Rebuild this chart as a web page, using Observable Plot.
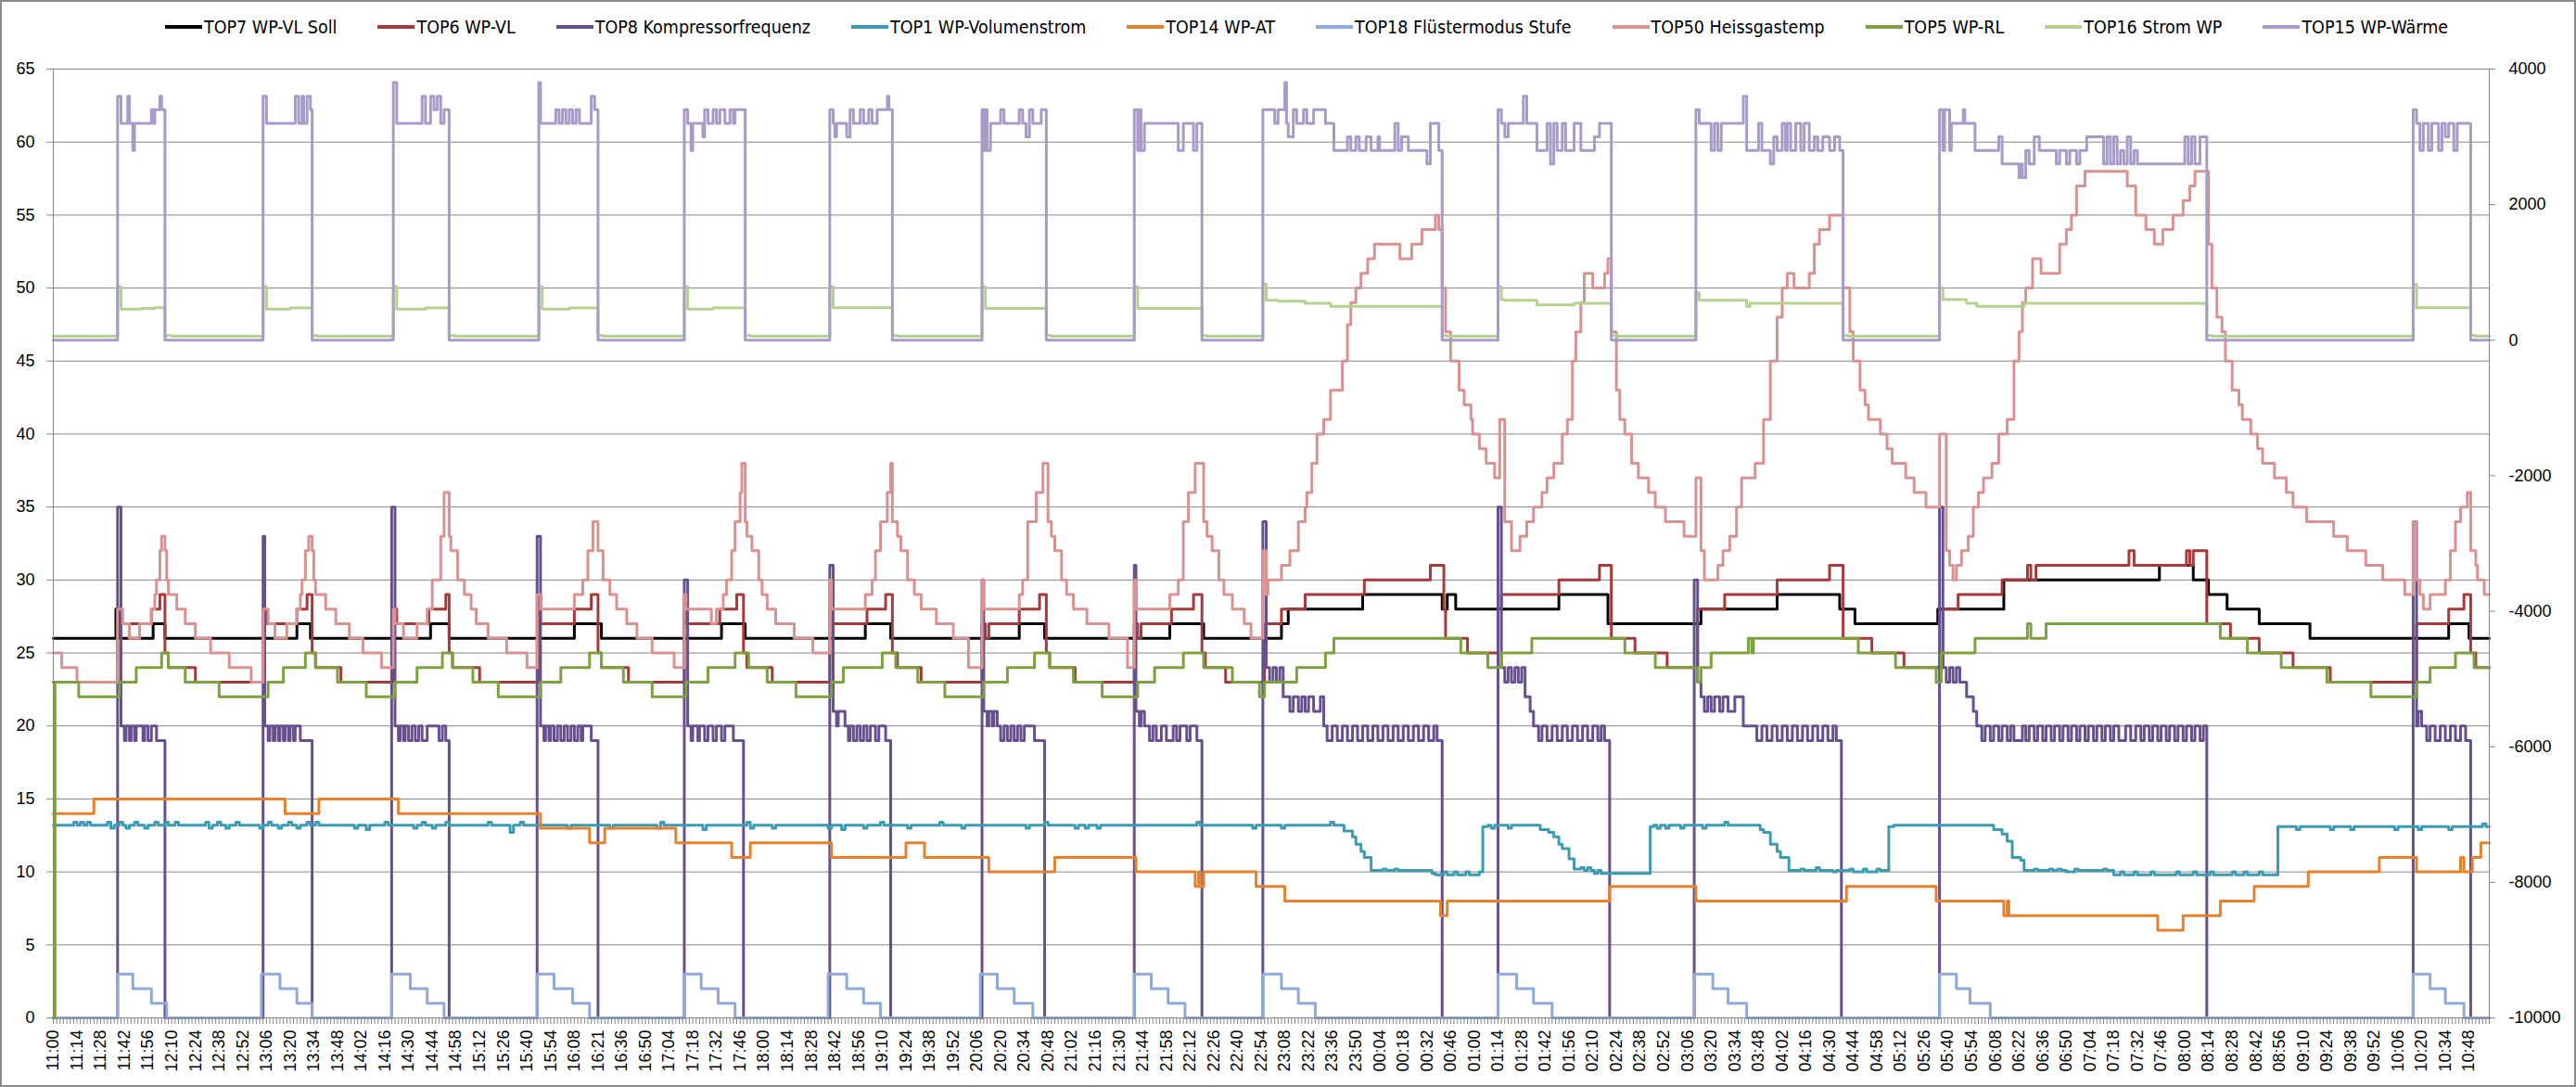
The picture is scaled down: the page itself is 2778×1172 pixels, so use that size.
<!DOCTYPE html>
<html><head><meta charset="utf-8">
<script src="https://cdn.jsdelivr.net/npm/d3@7"></script>
<script src="https://cdn.jsdelivr.net/npm/@observablehq/plot@0.6"></script>
<style>
html,body{margin:0;padding:0;background:#fff;}
#wrap{position:relative;width:2778px;height:1172px;overflow:hidden;font-family:"Liberation Sans",Arial,sans-serif;}
#legend{height:58px;display:flex;justify-content:center;align-items:center;column-gap:44px;font-size:19.5px;color:#000;padding-left:40px;box-sizing:border-box;font-family:"Liberation Sans Narrow","DejaVu Sans Condensed","Liberation Sans",Arial,sans-serif;}
.item{display:flex;align-items:center;white-space:nowrap;}
.sw{width:40px;height:4px;margin-right:2px;}
#border{position:absolute;left:0;top:0;width:2778px;height:1172px;border:2px solid #8a8a8a;box-sizing:border-box;pointer-events:none;}
</style></head><body>
<div id="wrap"><div id="legend"></div><div id="chart"></div><div id="border"></div></div>
<script>
// x = minutes after 11:00; values as [t, v, t, v, ...] (value holds from t)
const xLabels = ["11:00","11:14","11:28","11:42","11:56","12:10","12:24","12:38","12:52","13:06","13:20","13:34","13:48","14:02","14:16","14:30","14:44","14:58","15:12","15:26","15:40","15:54","16:08","16:21","16:36","16:50","17:04","17:18","17:32","17:46","18:00","18:14","18:28","18:42","18:56","19:10","19:24","19:38","19:52","20:06","20:20","20:34","20:48","21:02","21:16","21:30","21:44","21:58","22:12","22:26","22:40","22:54","23:08","23:22","23:36","23:50","00:04","00:18","00:32","00:46","01:00","01:14","01:28","01:42","01:56","02:10","02:24","02:38","02:52","03:06","03:20","03:34","03:48","04:02","04:16","04:30","04:44","04:58","05:12","05:26","05:40","05:54","06:08","06:22","06:36","06:50","07:04","07:18","07:32","07:46","08:00","08:14","08:28","08:42","08:56","09:10","09:24","09:38","09:52","10:06","10:20","10:34","10:48"];
const leftTicks = [0,5,10,15,20,25,30,35,40,45,50,55,60,65];
const rightTicks = [-10000,-8000,-6000,-4000,-2000,0,2000,4000];

const top7Soll = [0,26, 37,28, 39,26, 59,27, 66,26, 144,27, 152,26, 223,27, 234,26, 308,27, 324,26, 395,27, 409,26, 480,27, 495,26, 571,27, 586,26, 660,27, 680,26, 726,27, 730,28, 774,29, 821,28, 824,29, 829,28, 890,29, 919,27, 974,28, 1019,29, 1056,28, 1065,27, 1114,28, 1153,30, 1245,31, 1265,30, 1274,29, 1285,28, 1304,27, 1334,26, 1416,27, 1428,26];

const top6VL = [0,23, 38,28, 40,27, 58,28, 63,29, 66,25, 68,24, 84,23, 124,28, 126,27, 144,28, 150,29, 153,25, 155,24, 170,23, 201,28, 203,27, 222,28, 232,29, 234,25, 236,24, 252,23, 287,29, 288,27, 308,28, 318,29, 322,25, 324,24, 340,23, 373,28, 374,27, 394,28, 404,29, 408,25, 410,24, 425,23, 459,28, 461,27, 481,28, 492,29, 496,25, 499,24, 513,23, 549,27, 551,26, 553,27, 571,28, 583,29, 587,25, 589,24, 604,23, 639,27, 641,26, 643,27, 661,28, 674,29, 679,25, 681,24, 693,23, 716,27, 726,28, 740,29, 775,30, 814,31, 822,28, 823,26, 836,25, 854,28, 856,29, 890,30, 914,31, 921,26, 935,25, 954,24, 972,28, 988,29, 1019,30, 1050,31, 1058,26, 1075,25, 1094,24, 1117,28, 1126,29, 1152,30, 1167,31, 1169,30, 1172,31, 1227,32, 1230,31, 1261,32, 1263,31, 1265,32, 1273,27, 1287,26, 1304,25, 1324,24, 1346,23, 1397,27, 1416,28, 1425,29, 1429,25, 1432,24];

const top8Kompressor = [0,0, 38,35, 40,20, 42,19, 43,20, 45,19, 46,20, 48,19, 49,20, 53,19, 54,20, 56,19, 58,20, 61,19, 66,0,
 124,33, 125,20, 127,19, 128,20, 130,19, 131,20, 133,19, 134,20, 136,19, 137,20, 139,19, 140,20, 142,19, 143,20, 146,19, 153,0,
 200,35, 202,20, 204,19, 205,20, 207,19, 208,20, 210,19, 212,20, 214,19, 216,20, 218,19, 221,20, 228,19, 230,20, 232,19, 234,0,
 286,33, 288,20, 290,19, 291,20, 293,19, 294,20, 296,19, 298,20, 300,19, 302,20, 304,19, 306,20, 308,19, 310,20, 312,19, 313,20, 318,19, 322,0,
 373,30, 375,20, 377,19, 378,20, 381,19, 382,20, 385,19, 387,20, 390,19, 392,20, 395,19, 397,20, 402,19, 408,0,
 459,31, 461,21, 463,20, 464,21, 468,20, 470,19, 471,20, 473,19, 475,20, 477,19, 479,20, 481,19, 483,20, 486,19, 488,20, 492,19, 495,0,
 549,30, 550,21, 552,20, 553,21, 555,20, 556,21, 558,20, 560,19, 562,20, 564,19, 566,20, 568,19, 570,20, 572,19, 574,20, 580,19, 586,0,
 639,31, 640,21, 642,20, 643,21, 645,20, 648,19, 650,20, 652,19, 655,20, 658,19, 662,20, 664,19, 666,20, 670,19, 672,20, 676,19, 679,0,
 715,34, 717,24, 719,23, 721,24, 723,23, 725,24, 727,22, 731,21, 733,22, 736,21, 738,22, 740,21, 742,22, 745,21, 749,22, 751,20, 753,19, 756,20, 759,19, 762,20, 765,19, 768,20, 771,19, 774,20, 777,19, 780,20, 783,19, 786,20, 789,19, 792,20, 795,19, 798,20, 801,19, 804,20, 807,19, 810,20, 813,19, 816,20, 818,19, 821,0,
 854,35, 856,24, 858,23, 860,24, 862,23, 864,24, 866,23, 868,24, 870,22, 873,21, 875,20, 878,19, 880,20, 883,19, 886,20, 889,19, 892,20, 895,19, 898,20, 901,19, 904,20, 907,19, 910,20, 913,19, 915,20, 917,19, 920,0,
 970,30, 972,23, 974,22, 976,21, 978,22, 980,21, 982,22, 985,21, 987,22, 990,21, 994,22, 999,20, 1007,19, 1010,20, 1013,19, 1016,20, 1019,19, 1022,20, 1025,19, 1028,20, 1031,19, 1034,20, 1037,19, 1040,20, 1043,19, 1046,20, 1049,19, 1052,20, 1054,19, 1057,0,
 1115,35, 1117,24, 1119,23, 1121,24, 1123,23, 1125,24, 1127,23, 1131,22, 1135,21, 1137,20, 1140,19, 1142,20, 1145,19, 1147,20, 1150,19, 1152,20, 1155,19, 1157,20, 1159,19, 1164,20, 1166,19, 1168,20, 1171,19, 1173,20, 1176,19, 1178,20, 1181,19, 1183,20, 1186,19, 1188,20, 1191,19, 1193,20, 1196,19, 1198,20, 1201,19, 1203,20, 1206,19, 1208,20, 1211,19, 1213,20, 1216,19, 1218,20, 1221,19, 1225,20, 1228,19, 1231,20, 1234,19, 1236,20, 1239,19, 1241,20, 1244,19, 1246,20, 1249,19, 1251,20, 1254,19, 1256,20, 1259,19, 1261,20, 1264,19, 1266,20, 1269,19, 1271,20, 1273,0,
 1395,34, 1397,20, 1398,21, 1400,20, 1403,19, 1405,20, 1408,19, 1411,20, 1414,19, 1417,20, 1420,19, 1423,20, 1426,19, 1429,0];

const top1Volumenstrom = [0,13.2, 12,13.4, 14,13.2, 16,13.4, 18,13.2, 20,13.4, 22,13.2, 32,13.4, 34,13.0, 36,13.2, 39,13.4, 41,13.2, 43,13.0, 45,13.2, 48,13.4, 50,13.2, 54,13.0, 56,13.2, 60,13.4, 62,13.2, 66,13.4, 68,13.2, 72,13.4, 74,13.2, 90,13.4, 92,13.0, 94,13.2, 97,13.4, 99,13.2, 102,13.0, 104,13.2, 108,13.4, 110,13.2, 122,13.0, 124,13.2, 127,13.4, 129,13.2, 133,13.0, 135,13.2, 139,13.4, 141,13.2, 144,13.0, 146,13.2, 150,13.4, 152,13.2, 155,13.4, 157,13.2, 178,13.0, 180,13.2, 185,12.9, 187,13.2, 196,13.4, 198,13.2, 213,13.0, 215,13.2, 218,13.4, 220,13.2, 224,13.0, 226,13.2, 232,13.4, 234,13.2, 257,13.4, 259,13.2, 270,12.7, 272,13.2, 276,13.4, 278,13.2, 304,13.0, 306,13.2, 329,13.0, 331,13.2, 357,13.0, 359,13.4, 361,13.2, 384,12.9, 386,13.2, 410,13.4, 412,13.0, 414,13.2, 425,13.0, 427,13.2, 458,13.0, 460,13.2, 466,12.9, 468,13.2, 479,13.0, 481,13.2, 489,13.4, 491,13.2, 505,13.0, 507,13.2, 524,13.4, 526,13.2, 537,13.0, 539,13.2, 575,13.0, 577,13.2, 586,13.4, 588,13.2, 604,13.0, 606,13.2, 610,13.0, 612,13.2, 617,13.0, 619,13.2, 676,13.4, 678,13.2, 709,13.0, 711,13.2, 726,13.0, 728,13.2, 755,13.4, 757,13.2, 763,12.8, 768,12.4, 770,11.9, 773,11.4, 775,11.0, 779,10.1, 786,10.2, 788,10.1, 793,10.2, 795,10.1, 815,9.9, 817,9.8, 822,10.0, 824,9.8, 828,10.0, 830,9.8, 835,10.0, 837,9.8, 843,10.0, 845,13.1, 848,13.2, 850,13.0, 852,13.2, 860,13.0, 862,13.2, 879,12.9, 884,12.7, 887,12.4, 890,11.9, 892,11.6, 896,10.9, 899,10.2, 903,10.3, 905,10.1, 907,10.3, 909,10.1, 911,9.9, 913,10.1, 915,9.9, 944,13.1, 946,13.2, 948,13.0, 950,13.2, 953,13.0, 955,13.2, 962,13.0, 964,13.2, 975,13.0, 977,13.2, 988,13.4, 990,13.2, 1009,12.9, 1011,12.7, 1015,11.9, 1019,11.4, 1021,11.0, 1026,10.1, 1033,10.2, 1035,10.1, 1042,10.3, 1044,10.1, 1052,10.0, 1054,10.1, 1062,10.2, 1064,10.0, 1070,10.2, 1072,10.0, 1078,10.2, 1080,10.1, 1085,13.1, 1088,13.2, 1147,12.9, 1152,12.6, 1155,12.1, 1158,11.0, 1163,10.8, 1165,10.1, 1171,10.2, 1173,10.1, 1180,10.2, 1182,10.1, 1185,10.2, 1187,10.1, 1190,10.0, 1195,10.2, 1197,10.1, 1212,10.2, 1214,10.1, 1218,9.8, 1222,10.0, 1224,9.8, 1230,10.0, 1232,9.8, 1240,10.0, 1242,9.8, 1255,10.0, 1257,9.8, 1265,10.0, 1267,9.8, 1275,10.0, 1277,9.8, 1288,10.0, 1290,9.8, 1295,10.0, 1297,9.8, 1304,10.0, 1306,9.8, 1315,13.1, 1326,12.9, 1328,13.1, 1346,12.9, 1348,13.1, 1358,12.9, 1360,13.1, 1384,12.9, 1386,13.1, 1398,12.9, 1400,13.1, 1416,12.9, 1418,13.1, 1436,13.3, 1438,13.1];

const top14AT = [0,14, 24,15, 137,14, 157,15, 204,14, 288,13, 317,12, 326,13, 368,12, 401,11, 412,12, 460,11, 504,12, 515,11, 553,10, 592,11, 640,10, 675,9, 677,10, 678,9, 680,10, 711,9, 728,8, 820,7, 824,8, 920,9, 971,8, 1060,9, 1113,8, 1153,7, 1155,8, 1156,7, 1244,6, 1259,7, 1281,8, 1301,9, 1333,10, 1375,11, 1397,10, 1423,11, 1425,10, 1430,11, 1435,12];

const top18Fluester = [0,0, 38,3, 47,2, 58,1, 67,0, 123,3, 134,2, 144,1, 153,0, 200,3, 211,2, 221,1, 231,0, 286,3, 296,2, 307,1, 317,0, 373,3, 383,2, 393,1, 403,0, 458,3, 469,2, 479,1, 489,0, 548,3, 558,2, 568,1, 579,0, 639,3, 649,2, 659,1, 669,0, 715,3, 726,2, 736,1, 746,0, 854,3, 865,2, 875,1, 886,0, 970,3, 981,2, 990,1, 1001,0, 1115,3, 1125,2, 1133,1, 1145,0, 1395,3, 1405,2, 1414,1, 1425,0];

const top50Heissgas = [0,25, 5,24, 14,23,
 38,28, 41,27, 45,26, 51,27, 58,28, 60,29, 61,30, 63,32, 64,33, 66,32, 67,30, 68,29, 73,28, 78,27, 84,26, 93,25, 104,24, 117,23,
 124,28, 127,27, 131,26, 138,27, 144,28, 146,29, 147,30, 149,32, 151,33, 153,32, 154,30, 155,29, 161,28, 167,27, 175,26, 183,25, 194,24,
 201,28, 202,27, 207,26, 215,27, 221,28, 224,30, 229,33, 231,36, 234,33, 235,32, 239,30, 243,29, 247,28, 250,27, 257,26, 268,25, 280,24,
 286,29, 288,28, 308,29, 313,30, 316,32, 319,34, 322,32, 325,30, 329,29, 333,28, 339,27, 345,26, 354,25, 367,24,
 373,29, 374,28, 389,27, 392,28, 396,29, 398,30, 401,32, 403,34, 406,36, 407,38, 409,34, 410,33, 413,32, 417,30, 419,29, 422,28, 427,27, 438,26, 449,25,
 459,30, 460,28, 480,29, 484,30, 486,32, 489,34, 493,36, 495,38, 496,34, 499,33, 501,32, 505,30, 509,29, 513,28, 522,27, 532,26, 541,24,
 549,30, 550,28, 571,29, 573,30, 576,34, 581,36, 585,38, 588,34, 590,33, 592,32, 596,30, 599,29, 603,28, 611,27, 624,26, 635,24,
 639,30, 640,28, 660,29, 665,30, 668,34, 671,36, 675,38, 680,34, 682,33, 685,32, 689,30, 692,29, 697,28, 704,27, 708,26,
 715,32, 717,29, 718,30, 726,31, 731,32, 736,34, 740,35, 741,36, 744,38, 747,40, 751,41, 755,43, 762,45, 765,47.5, 767,49, 770,50, 773,51, 777,52, 781,53, 796,52, 803,53, 809,54, 817,55, 819,54, 821,50, 823,47, 826,45, 831,43, 834,42, 838,41, 839,40, 843,39, 847,38, 852,37,
 855,41, 858,34, 862,32, 867,33, 871,34, 875,35, 880,36, 883,37, 887,38, 892,40, 895,41, 898,45, 900,47, 903,49, 905,51, 910,50, 917,51, 919,52, 921,47, 924,43, 926,41, 929,40, 933,38, 937,37, 943,36, 947,35, 953,34, 964,33,
 971,37, 974,32, 976,30, 984,31, 987,32, 991,33, 995,35, 998,37, 1006,38, 1011,41, 1015,45, 1019,48, 1022,50, 1025,51, 1029,50, 1038,51, 1041,53, 1044,54, 1050,55, 1058,50, 1062,47, 1064,45, 1068,43, 1071,42, 1073,41, 1080,40, 1084,39, 1087,38, 1095,37, 1100,36, 1107,35,
 1115,40, 1119,32, 1121,31, 1123,30, 1125,31, 1128,32, 1132,33, 1135,35, 1138,36, 1141,37, 1146,38, 1150,40, 1155,41, 1159,45, 1162,47, 1164,49, 1166,50, 1170,52, 1175,51, 1186,53, 1190,54, 1193,55, 1196,57, 1201,58, 1226,57, 1231,55, 1237,54, 1242,53, 1247,54, 1253,55, 1259,56, 1263,57, 1266,58, 1274,53, 1276,50, 1279,48, 1282,47, 1284,45, 1288,43, 1292,42, 1294,41, 1299,40, 1303,39, 1306,38, 1313,37, 1320,36, 1324,35, 1332,34, 1348,33, 1356,32, 1367,31, 1377,30, 1390,29,
 1395,34, 1397,30, 1399,29, 1401,28, 1405,29, 1414,30, 1417,32, 1420,34, 1423,35, 1427,36, 1429,32, 1432,31, 1433,30, 1437,29];

const top5RL = [0,0, 1,23, 15,22, 39,23, 49,24, 64,25, 68,24, 78,23, 98,22, 127,23, 136,24, 149,25, 155,24, 168,23, 185,22, 202,23, 215,24, 230,25, 236,24, 248,23, 263,22, 288,23, 300,24, 317,25, 324,24, 337,23, 354,22, 374,23, 387,24, 403,25, 411,24, 422,23, 439,22, 460,23, 467,24, 490,25, 498,24, 511,23, 527,22, 550,23, 564,24, 580,25, 589,24, 603,23, 620,22, 641,23, 651,24, 668,25, 680,24, 697,23, 713,22, 716,23, 735,24, 752,25, 757,26, 832,25, 848,24, 856,25, 874,26, 929,25, 947,24, 972,23, 974,24, 980,25, 1002,26, 1004,25, 1005,26, 1067,25, 1089,24, 1113,23, 1116,25, 1136,26, 1167,27, 1169,26, 1178,27, 1281,26, 1297,25, 1317,24, 1344,23, 1370,22, 1397,23, 1405,24, 1420,25, 1431,24];

// right axis series (native units)
const top16Strom = [0,60, 38,790, 40,460, 52,470, 60,480, 66,70, 70,60, 124,790, 126,460, 140,475, 153,70, 156,60, 201,790, 203,460, 220,475, 234,70, 237,60, 287,790, 289,460, 305,475, 322,70, 325,60, 373,790, 375,460, 390,475, 409,70, 412,60, 459,790, 461,480, 496,70, 499,60, 549,790, 551,470, 587,70, 590,60, 639,790, 641,470, 679,70, 682,60, 715,830, 717,590, 724,575, 740,545, 755,500, 821,70, 824,60, 854,790, 856,600, 858,590, 877,520, 899,545, 921,70, 924,60, 971,700, 973,590, 1001,500, 1003,545, 1058,70, 1061,60, 1115,770, 1117,600, 1131,545, 1137,500, 1165,545, 1273,70, 1276,60, 1395,820, 1397,480, 1429,70, 1432,60];

const top15Waerme = [0,0, 38,3600, 40,3200, 44,3600, 45,3200, 47,2800, 48,3200, 58,3400, 59,3200, 60,3400, 63,3600, 64,3400, 66,0,
 124,3600, 126,3200, 143,3600, 145,3200, 147,3600, 148,3200, 150,3600, 152,3400, 153,0,
 201,3800, 203,3200, 218,3600, 220,3200, 223,3600, 225,3400, 227,3600, 229,3200, 231,3400, 234,0,
 287,3800, 288,3200, 297,3400, 299,3200, 301,3400, 303,3200, 305,3400, 307,3200, 309,3400, 311,3200, 318,3600, 320,3400, 322,0,
 373,3400, 375,3200, 377,2800, 378,3200, 384,3000, 385,3400, 387,3200, 390,3400, 392,3200, 394,3400, 397,3200, 400,3400, 402,3200, 403,3400, 409,0,
 459,3400, 461,3200, 462,3000, 463,3200, 469,3000, 471,3400, 473,3200, 477,3400, 479,3200, 482,3400, 484,3200, 487,3400, 493,3600, 494,3400, 496,0,
 549,3400, 550,2800, 551,3400, 552,2800, 554,3200, 560,3400, 562,3200, 571,3400, 573,3200, 575,3000, 577,3400, 579,3200, 584,3400, 587,0,
 639,3400, 641,2800, 642,3400, 643,2800, 645,3200, 665,2800, 668,3200, 674,2800, 676,3200, 679,0,
 715,3400, 722,3200, 724,3400, 728,3800, 729,3200, 730,3000, 733,3400, 735,3200, 739,3400, 741,3200, 745,3400, 752,3200, 757,2800, 765,3000, 767,2800, 770,3000, 772,2800, 776,3000, 779,2800, 783,3000, 784,2800, 793,3200, 795,2800, 797,3000, 801,2800, 812,2600, 814,3200, 819,2800, 821,0,
 854,3400, 856,3200, 858,3000, 860,3200, 869,3600, 871,3200, 877,2800, 883,3200, 885,2600, 887,3200, 889,2800, 892,3200, 894,2800, 899,3200, 903,2800, 911,3000, 914,3200, 921,0,
 971,3400, 973,3200, 980,2800, 982,3200, 984,2800, 986,3200, 999,3600, 1001,2800, 1008,3200, 1010,2800, 1015,2600, 1017,3000, 1019,2800, 1022,3200, 1024,2800, 1025,3200, 1027,2800, 1030,3200, 1033,2800, 1035,3200, 1038,2800, 1041,3000, 1043,2800, 1046,3000, 1050,2800, 1053,3000, 1056,2800, 1058,0,
 1115,3400, 1117,2800, 1118,3400, 1121,2800, 1122,3200, 1129,3400, 1130,3200, 1136,2800, 1150,3000, 1152,2600, 1162,2400, 1163,2600, 1164,2400, 1166,2800, 1168,2600, 1171,3000, 1174,2800, 1184,2600, 1186,2800, 1190,2600, 1192,2800, 1196,2600, 1198,2800, 1202,3000, 1212,2600, 1214,3000, 1216,2600, 1218,3000, 1220,2600, 1222,2800, 1224,2600, 1226,3000, 1228,2600, 1230,2800, 1232,2600, 1260,3000, 1262,2600, 1264,3000, 1266,2600, 1269,3000, 1273,0,
 1395,3400, 1397,3200, 1399,2800, 1401,3200, 1404,2800, 1406,3200, 1410,2800, 1412,3200, 1414,3000, 1416,3200, 1419,2800, 1421,3200, 1429,0];

const T_END = 1440;
const r2l = d3.scaleLinear().domain([-10000, 4000]).range([0, 65]);
function toPts(arr, conv) {
  const out = [];
  for (let i = 0; i < arr.length; i += 2) out.push({t: arr[i], v: conv ? conv(arr[i+1]) : arr[i+1]});
  out.push({t: T_END, v: out[out.length-1].v});
  return out;
}

const series = [
  {name: "TOP7 WP-VL Soll", color: "#000000", data: top7Soll},
  {name: "TOP6 WP-VL", color: "#A8393A", data: top6VL},
  {name: "TOP8 Kompressorfrequenz", color: "#68508F", data: top8Kompressor},
  {name: "TOP1 WP-Volumenstrom", color: "#3A9BB2", data: top1Volumenstrom},
  {name: "TOP14 WP-AT", color: "#E6822F", data: top14AT},
  {name: "TOP18 Flüstermodus Stufe", color: "#8FAAD8", data: top18Fluester},
  {name: "TOP50 Heissgastemp", color: "#DA9291", data: top50Heissgas},
  {name: "TOP5 WP-RL", color: "#7CA240", data: top5RL},
  {name: "TOP16 Strom WP", color: "#B3D28F", data: top16Strom, right: true},
  {name: "TOP15 WP-Wärme", color: "#A99BC7", data: top15Waerme, right: true}
];

// legend
const lg = document.getElementById("legend");
for (const s of series) {
  const it = document.createElement("div"); it.className = "item";
  const sw = document.createElement("div"); sw.className = "sw"; sw.style.background = s.color;
  const tx = document.createElement("span"); tx.textContent = s.name;
  it.appendChild(sw); it.appendChild(tx); lg.appendChild(it);
}

const gray = "#868686";
const chart = Plot.plot({
  width: 2778, height: 1114,
  marginTop: 16, marginBottom: 75, marginLeft: 57, marginRight: 94,
  style: {fontFamily: "'Liberation Sans', Arial, sans-serif", fontSize: "18px", background: "transparent", overflow: "visible"},
  x: {domain: [0, T_END], axis: null},
  y: {domain: [0, 65], axis: null},
  marks: [
    Plot.gridY(leftTicks, {stroke: gray, strokeOpacity: 1, strokeWidth: 1}),
    ...series.map(s => Plot.line(toPts(s.data, s.right ? r2l : null), {x: "t", y: "v", stroke: s.color, strokeWidth: 3, curve: "step-after", strokeLinejoin: "round"})),
    Plot.frame({stroke: gray}),
    Plot.axisY(leftTicks, {anchor: "left", tickSize: 7, tickPadding: 13, stroke: gray, fill: "#000", fontSize: 18, label: null}),
    Plot.axisY(rightTicks.map(r2l), {anchor: "right", tickSize: 6, tickPadding: 15, stroke: gray, fill: "#000", fontSize: 18, label: null, tickFormat: d => String(Math.round(r2l.invert(d)))}),
    Plot.axisX(d3.range(0, T_END + 1, 2), {anchor: "bottom", tickSize: 7, stroke: gray, tickFormat: () => "", label: null}),
    Plot.axisX(xLabels.map((_, i) => i * 14), {anchor: "bottom", tickSize: 0, tickPadding: 13, tickRotate: -90, fill: "#000", fontSize: 18, label: null, tickFormat: d => xLabels[Math.round(d / 14)]})
  ]
});
document.getElementById("chart").appendChild(chart);
</script>
</body></html>
